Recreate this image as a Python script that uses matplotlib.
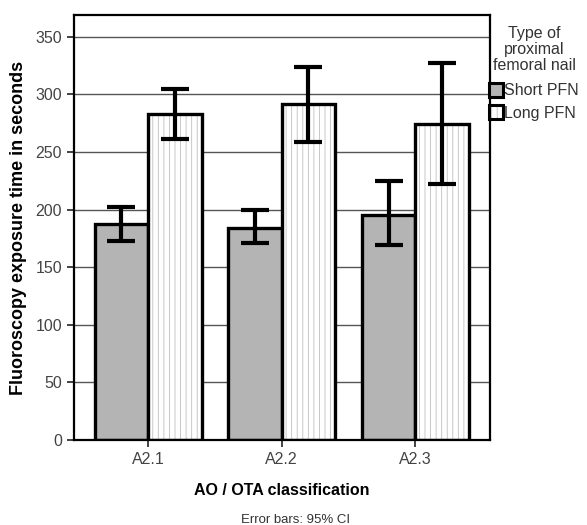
import matplotlib.pyplot as plt
import numpy as np

plt.rcParams['font.family'] = ['Liberation Sans', 'DejaVu Sans']
plt.rcParams['hatch.linewidth'] = 0.6

categories = ['A2.1', 'A2.2', 'A2.3']
short_mean = [187.5, 184.5, 195.5]
short_lo = [173, 171, 169]
short_hi = [202.5, 200, 225]
long_mean = [283, 291.5, 274]
long_lo = [261, 259, 222]
long_hi = [305, 324, 327]

fig = plt.figure(figsize=(5.87, 5.25), dpi=100)
ax = fig.add_axes([74 / 587, 85 / 525, 416 / 587, 425 / 525])

x = np.arange(len(categories))
w = 0.40

ax.set_axisbelow(True)
ax.yaxis.grid(True, color='#555555', linewidth=1.0)

b1 = ax.bar(x - w / 2, short_mean, w, color='#b4b4b4', edgecolor='black',
            linewidth=2.4, label='Short PFN', zorder=2)
b2 = ax.bar(x + w / 2, long_mean, w, color='white', edgecolor='black',
            linewidth=2.4, label='Long PFN', zorder=2)
for p in b2:
    p.set_hatch('|||')
    p._hatch_color = (0.75, 0.75, 0.75, 1.0)

err_s = [np.array(short_mean) - np.array(short_lo), np.array(short_hi) - np.array(short_mean)]
err_l = [np.array(long_mean) - np.array(long_lo), np.array(long_hi) - np.array(long_mean)]
ax.errorbar(x - w / 2, short_mean, yerr=err_s, fmt='none', ecolor='black',
            elinewidth=3, capsize=10, capthick=3, zorder=3)
ax.errorbar(x + w / 2, long_mean, yerr=err_l, fmt='none', ecolor='black',
            elinewidth=3, capsize=10, capthick=3, zorder=3)

ax.set_xlim(-0.555, 2.56)
ax.set_ylim(0, 369)
ax.set_yticks(np.arange(0, 351, 50))
ax.set_xticks(x)
ax.set_xticklabels(categories)
ax.tick_params(axis='both', colors='#222222', labelcolor='#444444', labelsize=11.5,
               length=5, width=1.2)
for s in ax.spines.values():
    s.set_linewidth(1.6)

ax.set_ylabel('Fluoroscopy exposure time in seconds', fontsize=13, fontweight='bold',
              labelpad=6)
ax.set_xlabel('AO / OTA classification', fontsize=11.5, fontweight='bold', labelpad=12)
fig.text(0.503, 0.004, 'Error bars: 95% CI', fontsize=9.5, color='#333333', ha='center')

leg = ax.legend(loc='upper left', bbox_to_anchor=(0.998, 0.975), frameon=False,
                title='Type of\nproximal\nfemoral nail', fontsize=11.5, title_fontsize=11.5,
                handlelength=0.85, handleheight=0.95, handletextpad=0.1,
                borderaxespad=0, borderpad=0, labelspacing=0.45, alignment='center')
for t in leg.get_texts():
    t.set_color('#333333')
ttl = leg.get_title()
ttl.set_color('#333333')
ttl.set_multialignment('center')
ttl.set_linespacing(1.1)
leg._legend_box.sep = 7
for h in leg.legend_handles:
    h.set_linewidth(2.2)

fig.savefig('out.png', dpi=100)
